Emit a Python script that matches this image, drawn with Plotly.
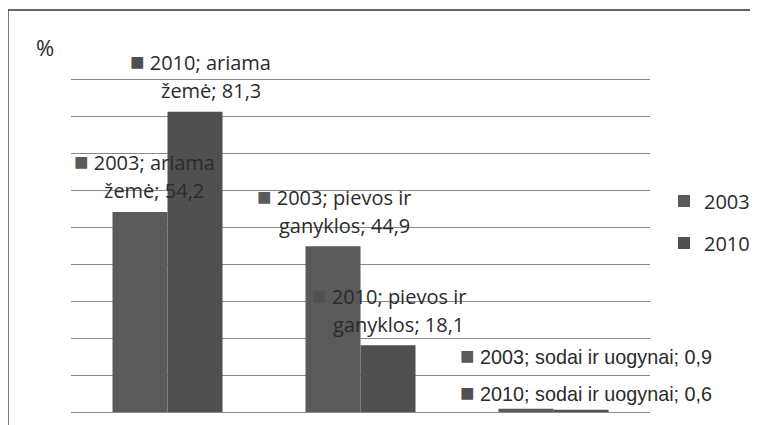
import plotly.graph_objects as go

categories = ["ariama žemė", "pievos ir ganyklos", "sodai ir uogynai"]
series_names = ["2003", "2010"]
values_2003 = [54.2, 44.9, 0.9]
values_2010 = [81.3, 18.1, 0.6]
y_unit = "%"

colors = {"2003": "#5a5a5a", "2010": "#505050"}
text_color = "#2b2b2b"
FONT = "Open Sans"

W, H = 750, 417          # page has an 8px body margin
L, R, T, B = 63, 108, 68, 13
pw, ph = W - L - R, H - T - B
def px(x): return (x - L) / pw
def py(y): return (H - B - y) / ph

fig = go.Figure()
legends = {"2003": "legend", "2010": "legend2"}
for name, vals in (("2003", values_2003), ("2010", values_2010)):
    fig.add_trace(go.Bar(x=list(range(len(categories))), y=vals, name=name,
                         legend=legends[name],
                         marker=dict(color=colors[name], line=dict(width=0))))

def fmt(v):
    return f"{v:.1f}".replace(".", ",")

wrap = {0: ("ariama", "žemė"), 1: ("pievos ir", "ganyklos")}
offs = {("2003", 0): (4, 36), ("2010", 0): (6, 36),
        ("2003", 1): (1, 36), ("2010", 1): (1, 36),
        ("2003", 2): (60, 53), ("2010", 2): (5, 17)}
bar_off = {"2003": -0.142, "2010": 0.142}

anns = []
for name, vals in (("2003", values_2003), ("2010", values_2010)):
    for i, v in enumerate(vals):
        dx, dy = offs[(name, i)]
        sq = f"<span style='color:{colors[name]};font-size:24px'>■</span> "
        if i in wrap:
            l1 = f"{sq}{name}; {wrap[i][0]}"
            l2 = f"{wrap[i][1]}; {fmt(v)}"
            anns.append(dict(x=i + bar_off[name], y=v, xref="x", yref="y", text=l1,
                             showarrow=False, xshift=dx, yshift=dy + 15,
                             font=dict(family=FONT, size=20, color=text_color)))
            anns.append(dict(x=i + bar_off[name], y=v, xref="x", yref="y", text=l2,
                             showarrow=False, xshift=dx + 10, yshift=dy - 15,
                             font=dict(family=FONT, size=20, color=text_color)))
        else:
            t = f"{sq}{name}; {categories[i]}; {fmt(v)}"
            anns.append(dict(x=i + bar_off[name], y=v, xref="x", yref="y", text=t,
                             showarrow=False, xshift=dx, yshift=dy,
                             font=dict(family="Liberation Sans", size=19.8, color=text_color)))

anns.append(dict(x=px(26), y=py(39), xref="paper", yref="paper", text=y_unit,
                 showarrow=False, xanchor="left", yanchor="middle",
                 font=dict(family=FONT, size=22, color=text_color)))

leg_common = dict(xanchor="left", yanchor="middle",
                  font=dict(family=FONT, size=20, color=text_color),
                  itemwidth=30, bgcolor="rgba(0,0,0,0)")

fig.update_layout(
    width=W, height=H,
    margin=dict(l=L, r=R, t=T, b=B, autoexpand=False),
    paper_bgcolor="white", plot_bgcolor="white",
    barmode="group", bargap=0.43, bargroupgap=0,
    showlegend=True,
    legend=dict(x=px(656), y=py(193), **leg_common),
    legend2=dict(x=px(656), y=py(235), **leg_common),
    xaxis=dict(range=[-0.5, 2.5], showticklabels=False, ticks="", showgrid=False,
               showline=False, zeroline=False),
    yaxis=dict(range=[0, 91], dtick=10, showticklabels=False, ticks="",
               showgrid=True, gridcolor="#8a8a8a", gridwidth=1,
               zeroline=True, zerolinecolor="#8a8a8a", zerolinewidth=1, showline=False),
    annotations=anns,
    shapes=[
        dict(type="line", xref="paper", yref="paper", x0=px(0), x1=px(760), y0=py(2), y1=py(2),
             line=dict(color="#333333", width=1.3)),
        dict(type="line", xref="paper", yref="paper", x0=px(0), x1=px(0), y0=py(2), y1=py(430),
             line=dict(color="#333333", width=1.3)),
    ],
)

fig.write_html("out.html")
